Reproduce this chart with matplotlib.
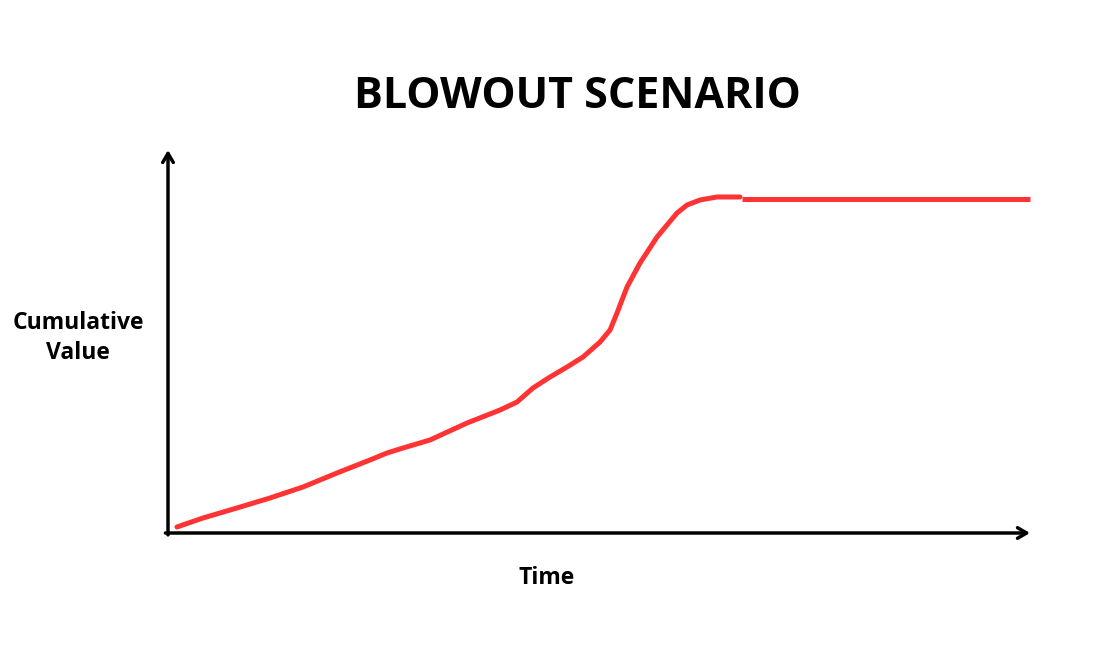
import matplotlib
matplotlib.use("Agg")
import matplotlib.pyplot as plt

# Data (time 0-100, value 0-100 in axis units)
time = [1.04, 4.06, 8.00, 11.83, 15.66, 19.61, 23.43, 25.41, 27.26, 30.39,
        34.69, 38.52, 40.49, 42.34, 44.32, 46.29, 48.14, 50.12, 51.28, 52.09,
        53.25, 54.76, 56.73, 59.05, 60.21, 61.72, 63.69, 66.36]
value = [1.57, 3.92, 6.53, 9.14, 12.01, 15.67, 19.06, 20.89, 22.19, 24.28,
         28.72, 32.11, 34.20, 37.86, 40.73, 43.34, 45.95, 49.87, 53.00, 57.44,
         64.23, 70.50, 77.28, 83.55, 85.64, 86.95, 87.73, 87.73]
flat_time = [66.6, 100.0]
flat_value = [87.2, 87.2]

W, H = 1105, 653
fig = plt.figure(figsize=(W / 100, H / 100), dpi=100)
fig.patch.set_facecolor("white")

x0, x1 = 168, 1030
y0, y1 = 533, 150
ax = fig.add_axes([x0 / W, (H - y0) / H, (x1 - x0) / W, (y0 - y1) / H])
ax.set_xlim(0, 100)
ax.set_ylim(0, 100)
ax.axis("off")

red = "#ff3333"
ax.plot(time, value, color=red, lw=3.6, solid_capstyle="round",
        solid_joinstyle="round", clip_on=False)
ax.plot(flat_time, flat_value, color=red, lw=3.6, solid_capstyle="butt", clip_on=False)

arrow = dict(arrowstyle="->,head_length=0.65,head_width=0.38", color="black", lw=2.5,
             shrinkA=0, shrinkB=0)
ax.annotate("", xy=(1.0, 0.0), xytext=(-0.003, 0.0), xycoords="axes fraction",
            arrowprops=arrow, annotation_clip=False)
ax.annotate("", xy=(0.0, 1.0), xytext=(0.0, -0.005), xycoords="axes fraction",
            arrowprops=arrow, annotation_clip=False)

font = ["Open Sans", "DejaVu Sans"]
fig.text(577 / W, 1 - 96 / H, "BLOWOUT SCENARIO", ha="center", va="center",
         fontsize=31, fontweight="bold", family=font)
fig.text(78 / W, 1 - 338 / H, "Cumulative\nValue", ha="center", va="center",
         fontsize=16.5, fontweight="bold", family=font, linespacing=1.35)
fig.text(547 / W, 1 - 578 / H, "Time", ha="center", va="center",
         fontsize=16.5, fontweight="bold", family=font)

fig.savefig("out.png", dpi=100, facecolor="white")
